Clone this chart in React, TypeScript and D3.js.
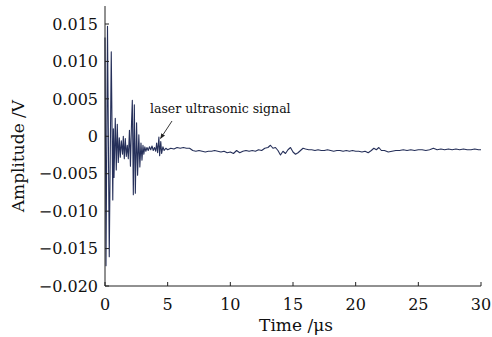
import React from "react";
import * as d3 from "d3";

const times: number[] = [
  0.0, 0.08, 0.2, 0.34, 0.5, 0.62, 0.67, 0.72, 0.82, 0.9, 0.98, 1.06, 1.14, 1.22, 1.3, 1.4,
  1.46, 1.54, 1.62, 1.7, 1.78, 1.86, 1.95, 2.03, 2.12, 2.18, 2.26, 2.34, 2.42, 2.52, 2.6,
  2.7, 2.78, 2.87, 2.95, 3.03, 3.1, 3.18, 3.26, 3.35, 3.45, 3.55, 3.65, 3.75, 3.85, 3.95,
  4.05, 4.12, 4.2, 4.3, 4.36, 4.45, 4.52, 4.62, 4.72, 4.85, 5.0, 5.25, 5.5, 5.75, 6.0,
  6.25, 6.5, 6.75, 7.0, 7.25, 7.5, 7.75, 8.0, 8.25, 8.5, 8.75, 9.0, 9.25, 9.5, 9.75, 10.0,
  10.25, 10.5, 10.75, 11.0, 11.25, 11.5, 11.75, 12.0, 12.25, 12.5, 12.75, 13.0, 13.2, 13.4,
  13.6, 13.8, 14.0, 14.2, 14.4, 14.6, 14.8, 15.0, 15.2, 15.4, 15.6, 15.8, 16.0, 16.25, 16.5,
  16.75, 17.0, 17.25, 17.5, 17.75, 18.0, 18.25, 18.5, 18.75, 19.0, 19.25, 19.5, 19.75, 20.0,
  20.25, 20.5, 20.75, 21.0, 21.25, 21.45, 21.65, 21.85, 22.05, 22.3, 22.6, 22.9, 23.2, 23.5,
  23.8, 24.1, 24.4, 24.7, 25.0, 25.3, 25.6, 25.9, 26.2, 26.5, 26.8, 27.1, 27.4, 27.7, 28.0,
  28.3, 28.6, 28.9, 29.2, 29.5, 29.8, 30.0,
];

const amplitudes: number[] = [
  0.0132, -0.0173, 0.0147, -0.0161, 0.0113, -0.0085, 0.001, -0.0055, 0.0024, -0.0045, 0.0016,
  -0.0035, -0.0002, -0.0028, -0.0006, -0.0024, 0.0, -0.003, -0.0003, -0.0027, -0.0012, -0.003,
  0.0008, -0.004, 0.002, 0.0048, -0.0078, 0.0042, -0.0076, 0.0018, -0.0052, 0.0002, -0.0041,
  -0.0009, -0.0032, -0.0012, -0.0024, -0.0014, -0.002, -0.0015, -0.0019, -0.0014, -0.0018,
  -0.0013, -0.0019, -0.0015, -0.002, -0.0009, -0.0022, -0.0001, -0.0026, -0.0007, -0.0023,
  -0.0014, -0.0019, -0.0016, -0.0018, -0.0016, -0.0017, -0.0015, -0.0016, -0.0015, -0.0016,
  -0.0016, -0.0019, -0.002, -0.0019, -0.002, -0.0021, -0.002, -0.002, -0.0019, -0.002, -0.0021,
  -0.002, -0.0022, -0.0021, -0.0023, -0.0019, -0.0022, -0.002, -0.0019, -0.002, -0.0019, -0.002,
  -0.0018, -0.0019, -0.0016, -0.0015, -0.0012, -0.0016, -0.0015, -0.0019, -0.0025, -0.002,
  -0.0023, -0.0018, -0.0015, -0.0021, -0.0024, -0.0022, -0.0019, -0.0016, -0.0017, -0.0018,
  -0.0018, -0.0019, -0.0018, -0.0019, -0.0019, -0.0018, -0.0019, -0.002, -0.0019, -0.0019,
  -0.002, -0.0019, -0.002, -0.0019, -0.002, -0.002, -0.0021, -0.002, -0.0022, -0.0019, -0.0016,
  -0.0018, -0.0015, -0.0019, -0.0019, -0.0021, -0.002, -0.0019, -0.0019, -0.0018, -0.0019,
  -0.0018, -0.0019, -0.0018, -0.0018, -0.0019, -0.0018, -0.0016, -0.0018, -0.0017, -0.0018,
  -0.0017, -0.0018, -0.0017, -0.0018, -0.0017, -0.0018, -0.0018, -0.0017, -0.0018, -0.0018,
];

const xTicks: number[] = [0, 5, 10, 15, 20, 25, 30];
const yTicks: number[] = [-0.02, -0.015, -0.01, -0.005, 0, 0.005, 0.01, 0.015];
const yTickLabels: string[] = ["−0.020", "−0.015", "−0.010", "−0.005", "0", "0.005", "0.010", "0.015"];

const xTitle = "Time /μs";
const yTitle = "Amplitude /V";
const annotationText = "laser ultrasonic signal";

export default function App() {
  const W = 492;
  const H = 337;
  const x = d3.scaleLinear().domain([0, 30]).range([105, 481]);
  const y = d3.scaleLinear().domain([-0.02, 0.015]).range([286, 24]);
  const yTop = y(0.0174);
  const font = "'DejaVu Serif', serif";
  const axisColor = "#222";

  const pts: [number, number][] = times.map((t, i) => [t, amplitudes[i]]);
  const line = d3
    .line<[number, number]>()
    .x((d) => x(d[0]))
    .y((d) => y(d[1]));

  const x0 = x(0);
  const y0 = y(-0.02);

  return (
    <svg
      width={W}
      height={H}
      style={{ position: "absolute", left: 0, top: 0, background: "#fff" }}
    >
      <defs>
        <marker id="arrow" viewBox="0 0 10 10" refX="9" refY="5" markerWidth="6" markerHeight="6" orient="auto">
          <path d="M0,1 L10,5 L0,9 Z" fill="#222" />
        </marker>
      </defs>
      <path d={line(pts) || ""} fill="none" stroke="#26305a" strokeWidth={1.1} strokeLinejoin="round" />
      {/* axes */}
      <line x1={x0} x2={x0} y1={yTop} y2={y0} stroke={axisColor} strokeWidth={1} />
      <line x1={x0} x2={x(30)} y1={y0} y2={y0} stroke={axisColor} strokeWidth={1} />
      {yTicks.map((v, i) => (
        <g key={"y" + i}>
          <line x1={x0} x2={x0 + 4} y1={y(v)} y2={y(v)} stroke={axisColor} strokeWidth={1} />
          <text
            x={x0 - 7}
            y={y(v)}
            dy="0.36em"
            textAnchor="end"
            fontFamily={font}
            fontSize={16}
            fill="#111"
          >
            {yTickLabels[i]}
          </text>
        </g>
      ))}
      {xTicks.map((v, i) => (
        <g key={"x" + i}>
          <line x1={x(v)} x2={x(v)} y1={y0} y2={y0 - 4} stroke={axisColor} strokeWidth={1} />
          <text x={x(v)} y={310} textAnchor="middle" fontFamily={font} fontSize={16} fill="#111">
            {v}
          </text>
        </g>
      ))}
      <text x={296} y={331} textAnchor="middle" fontFamily={font} fontSize={17} fill="#111">
        {xTitle}
      </text>
      <text
        transform={`translate(24,${(yTop + y0) / 2 + 10}) rotate(-90)`}
        textAnchor="middle"
        fontFamily={font}
        fontSize={17}
        fill="#111"
      >
        {yTitle}
      </text>
      <text x={150} y={113} fontFamily={font} fontSize={12.5} fill="#111">
        {annotationText}
      </text>
      <line x1={172} y1={121} x2={160.5} y2={138.5} stroke="#222" strokeWidth={0.9} markerEnd="url(#arrow)" />
    </svg>
  );
}
